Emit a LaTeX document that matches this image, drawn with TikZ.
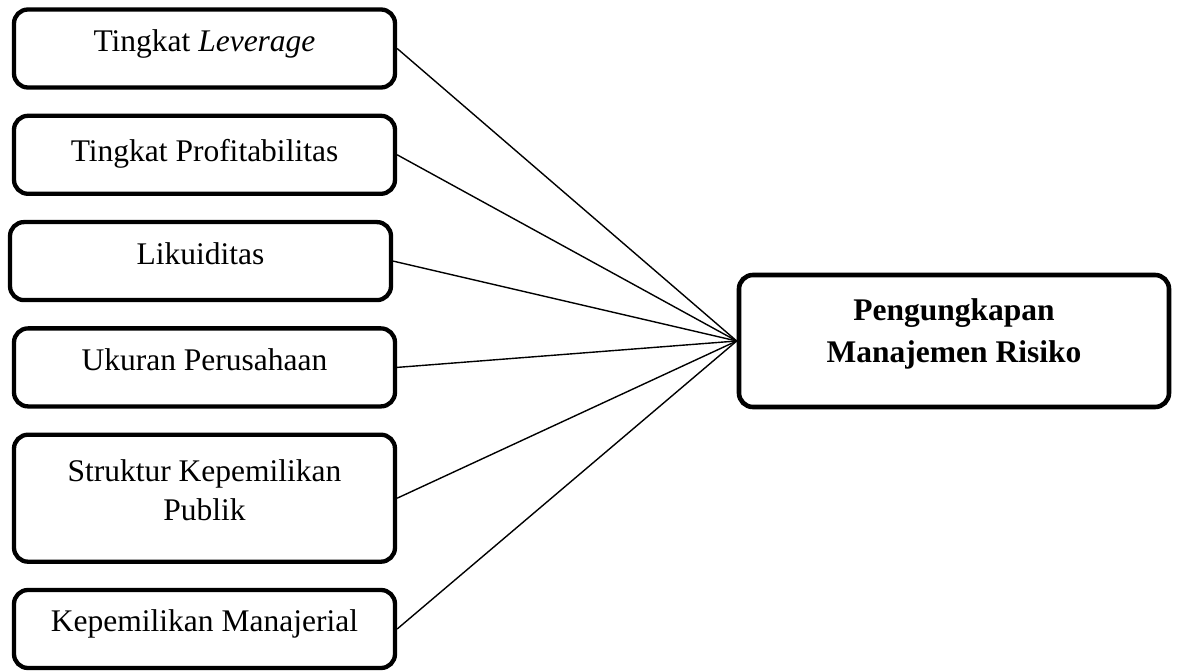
\documentclass[tikz,border=0pt]{standalone}
\usepackage{fontspec}
\setmainfont{Liberation Serif}
\usetikzlibrary{positioning}

\begin{document}
\begin{tikzpicture}[
node distance=24pt,
box/.style={draw, line width=4.3pt, rounded corners=14pt, align=center, minimum width=381pt, minimum height=78pt, text depth=16pt, font=\fontsize{31.5}{39}\selectfont},
link/.style={line width=1.4pt}
]
\useasboundingbox (0pt,0pt) rectangle (1179pt,-671pt);
\node[box] (lev) at (204.5pt,-48.5pt) {Tingkat \textit{Leverage}};
\node[box, below=of lev, text depth=8pt] (prof) {Tingkat Profitabilitas};
\node[box, below=of prof, xshift=-4pt] (likuid) {Likuiditas};
\node[box, below=of likuid, xshift=4pt] (ukuran) {Ukuran Perusahaan};
\node[box, below=of ukuran, minimum height=127pt, text depth=17pt] (publik) {Struktur Kepemilikan\\Publik};
\node[box, below=of publik] (manaj) {Kepemilikan Manajerial};
\node[box, minimum width=430pt, minimum height=132pt, line width=4.6pt, text depth=21pt, font=\fontsize{31.5}{42}\selectfont\bfseries] (risiko) at (954pt,-341pt) {Pengungkapan\\Manajemen Risiko};

\draw[link] (lev.east) -- (risiko.west);
\draw[link] (prof.east) -- (risiko.west);
\draw[link] (likuid.east) -- (risiko.west);
\draw[link] (ukuran.east) -- (risiko.west);
\draw[link] (publik.east) -- (risiko.west);
\draw[link] (manaj.east) -- (risiko.west);
\end{tikzpicture}
\end{document}
